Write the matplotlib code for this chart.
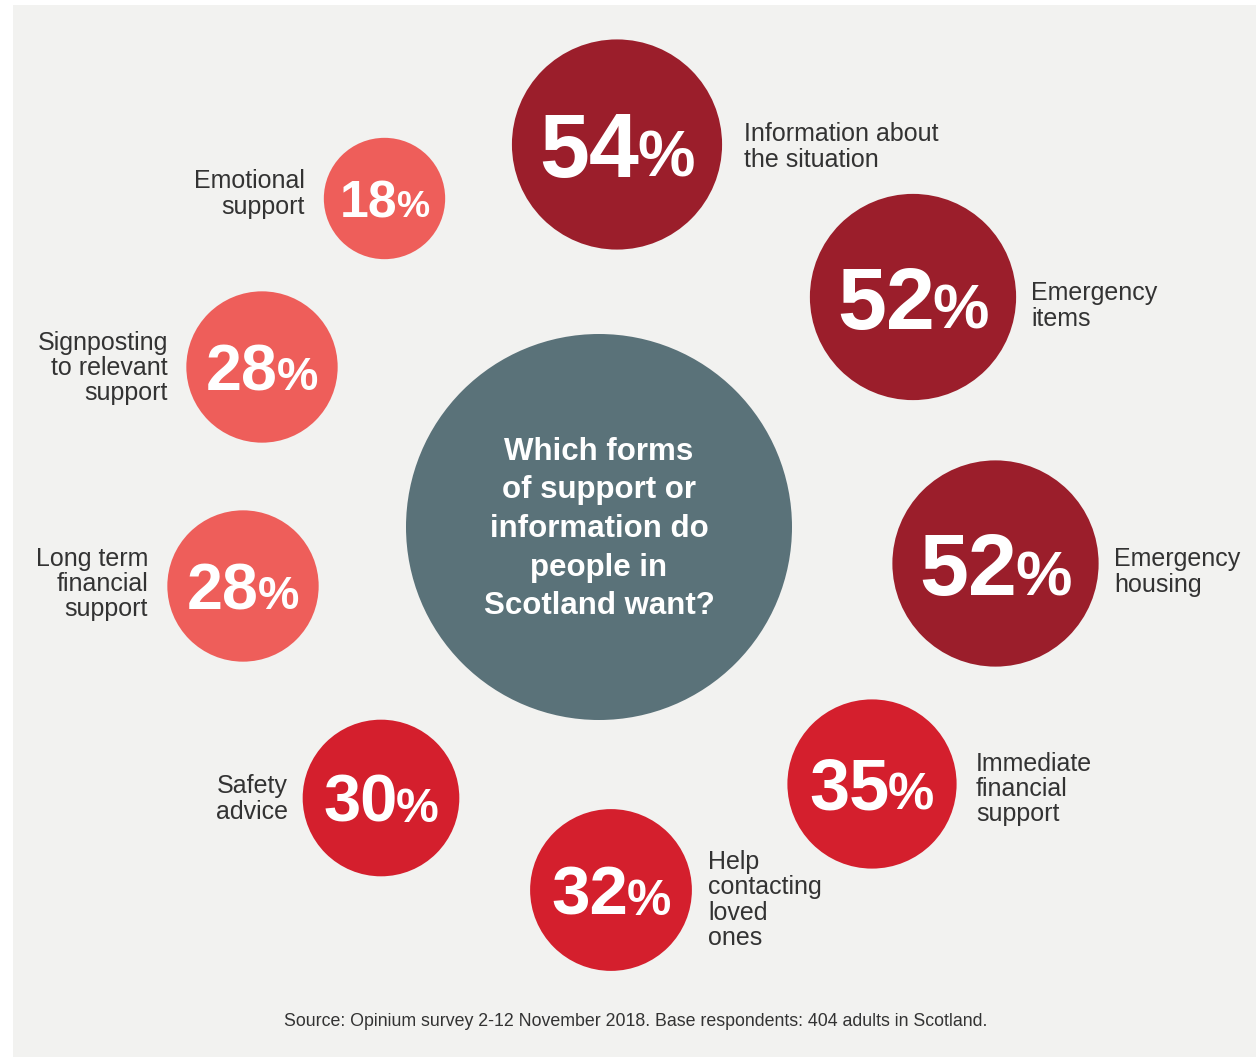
import matplotlib
matplotlib.use("Agg")
import matplotlib.pyplot as plt
from matplotlib.patches import Circle, Rectangle
import numpy as np

# ---- data ----
values = [54, 52, 52, 35, 32, 30, 28, 28, 18]
labels = [
    "Information about\nthe situation",
    "Emergency\nitems",
    "Emergency\nhousing",
    "Immediate\nfinancial\nsupport",
    "Help\ncontacting\nloved\nones",
    "Safety\nadvice",
    "Long term\nfinancial\nsupport",
    "Signposting\nto relevant\nsupport",
    "Emotional\nsupport",
]
question = "Which forms\nof support or\ninformation do\npeople in\nScotland want?"
source = "Source: Opinium survey 2-12 November 2018. Base respondents: 404 adults in Scotland."

# ---- layout (pixel coordinates) ----
centers = [(617, 144.5), (913, 297), (995.5, 563.5), (872, 784), (611, 890),
           (381, 798), (243, 586), (262, 367), (384.5, 198.5)]
label_side = ["r", "r", "r", "r", "r", "l", "l", "l", "l"]
label_anchor = [(744, 147), (1031, 306), (1114, 572), (976, 789), (708, 900),
                (288, 799), (148, 584), (168, 368), (305, 194)]

DARK, MID, LIGHT = "#9B1E2B", "#D41F2D", "#EE5E5A"
SLATE = "#5A7279"
BG = "#F2F2F0"
TXT = "#333333"

def color_for(v):
    if v >= 50:
        return DARK
    if v >= 30:
        return MID
    return LIGHT

W, H = 1256, 1057
fig = plt.figure(figsize=(W / 100, H / 100), dpi=100)
fig.patch.set_facecolor("white")
ax = fig.add_axes([0, 0, 1, 1])
ax.set_xlim(0, W)
ax.set_ylim(H, 0)
ax.set_aspect("equal")
ax.axis("off")

ax.add_patch(Rectangle((13, 5), 1243, 1052, facecolor=BG, edgecolor="none", zorder=0))

# central circle
ax.add_patch(Circle((599, 527), 193, facecolor=SLATE, edgecolor="none", zorder=1))
ax.text(599, 529, question, ha="center", va="center", color="white",
        fontsize=22.5, fontweight="bold", family="Liberation Sans",
        linespacing=1.38, zorder=3)

renderer = fig.canvas.get_renderer()
scale = 14.3
for v, lab, (cx, cy), side, (lx, ly) in zip(values, labels, centers, label_side, label_anchor):
    r = scale * np.sqrt(v)
    ax.add_patch(Circle((cx, cy), r, facecolor=color_for(v), edgecolor="none", zorder=1))
    fs = 0.615 * r
    cap_px = fs / 0.72 * 0.716
    base = cy + cap_px / 2
    t1 = ax.text(cx, base, str(v), ha="right", va="baseline", color="white",
                 fontsize=fs, fontweight="bold", family="Liberation Sans", zorder=3)
    t2 = ax.text(cx, base, "%", ha="left", va="baseline", color="white",
                 fontsize=fs * 0.72, fontweight="bold", family="Liberation Sans", zorder=3)
    w1 = t1.get_window_extent(renderer).width
    w2 = t2.get_window_extent(renderer).width
    gap = -0.02 * r
    total = w1 + w2 + gap
    left = cx - total / 2
    t1.set_x(left + w1)
    t2.set_x(left + w1 + gap)
    ax.text(lx, ly, lab, ha="left" if side == "r" else "right", va="center",
            multialignment="left" if side == "r" else "right",
            color=TXT, fontsize=18, family="Liberation Sans", linespacing=1.07, zorder=3)

ax.text(636, 1021, source, ha="center", va="center", color=TXT, fontsize=12.8,
        family="Liberation Sans", zorder=3)

fig.savefig("out.png", dpi=100, facecolor="white")
